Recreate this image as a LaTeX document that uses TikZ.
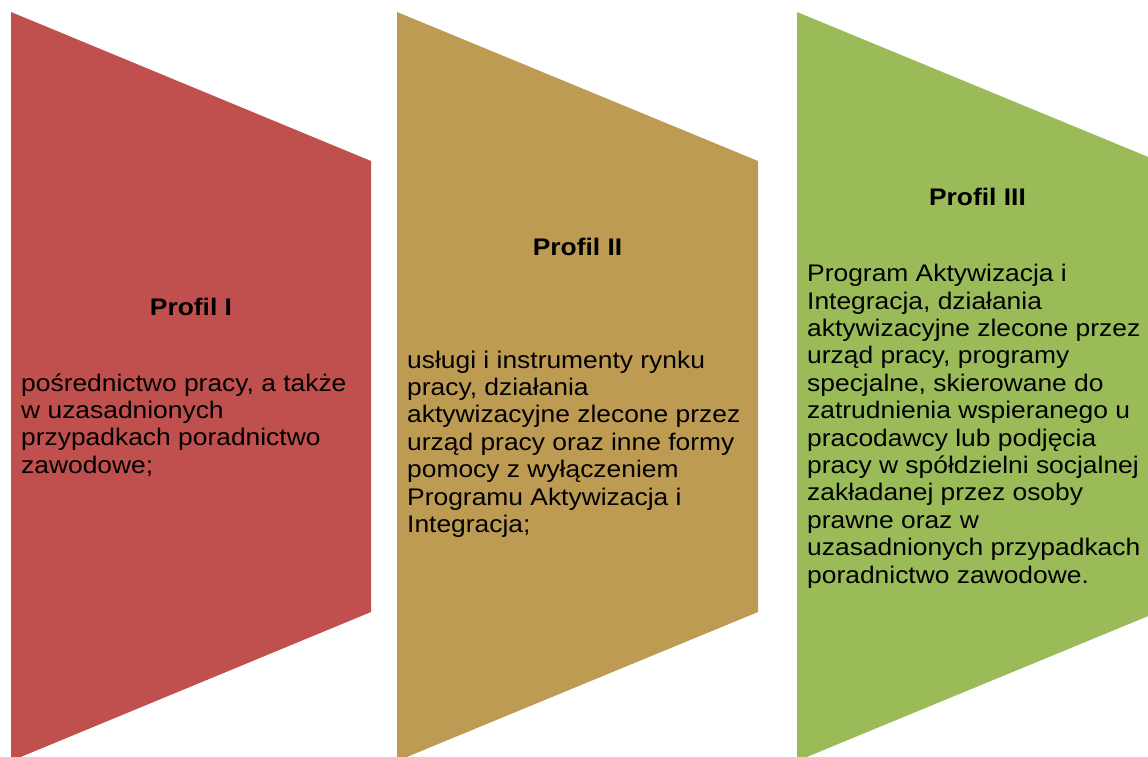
\documentclass[tikz,border=0pt]{standalone}
\usepackage{fontspec}
\setmainfont{Liberation Sans}
\usepackage{graphicx}
\definecolor{pred}{HTML}{C0504D}
\definecolor{pgold}{HTML}{BE9B52}
\definecolor{pgreen}{HTML}{9BBB59}
\begin{document}
\begin{tikzpicture}[x=1pt,y=-1pt,
  title/.style={anchor=base, inner sep=0pt, font=\fontsize{24}{27.4}\selectfont\bfseries},
  body/.style={anchor=base west, inner sep=0pt, font=\fontsize{24}{27.4}\selectfont}]
\useasboundingbox (0,0) rectangle (1148,756);
\clip (0,0) rectangle (1148,756);
\fill[pred]   (11,12)  -- (371,161)  -- (371,612)  -- (11,761)  -- cycle;
\fill[pgold]  (397,12) -- (758,161)  -- (758,612)  -- (397,761) -- cycle;
\fill[pgreen] (797,12) -- (1158,161) -- (1158,612) -- (797,761) -- cycle;

\node[title] (t1) at (191,315) {\scalebox{1.1}[1]{Profil I}};
\node[body] (b1) at (21,391) {\scalebox{1.1}[1]{\begin{tabular}[t]{@{}l@{}}pośrednictwo pracy, a także\\ w uzasadnionych\\ przypadkach poradnictwo\\ zawodowe;\end{tabular}}};

\node[title] (t2) at (577.5,255) {\scalebox{1.1}[1]{Profil II}};
\node[body] (b2) at (407,368) {\scalebox{1.1}[1]{\begin{tabular}[t]{@{}l@{}}usługi i instrumenty rynku\\ pracy, działania\\ aktywizacyjne zlecone przez\\ urząd pracy oraz inne formy\\ pomocy z wyłączeniem\\ Programu Aktywizacja i\\ Integracja;\end{tabular}}};

\node[title] (t3) at (977.5,205) {\scalebox{1.1}[1]{Profil III}};
\node[body] (b3) at (807,281.7) {\scalebox{1.1}[1]{\begin{tabular}[t]{@{}l@{}}Program Aktywizacja i\\ Integracja, działania\\ aktywizacyjne zlecone przez\\ urząd pracy, programy\\ specjalne, skierowane do\\ zatrudnienia wspieranego u\\ pracodawcy lub podjęcia\\ pracy w spółdzielni socjalnej\\ zakładanej przez osoby\\ prawne oraz w\\ uzasadnionych przypadkach\\ poradnictwo zawodowe.\end{tabular}}};
\end{tikzpicture}
\end{document}
